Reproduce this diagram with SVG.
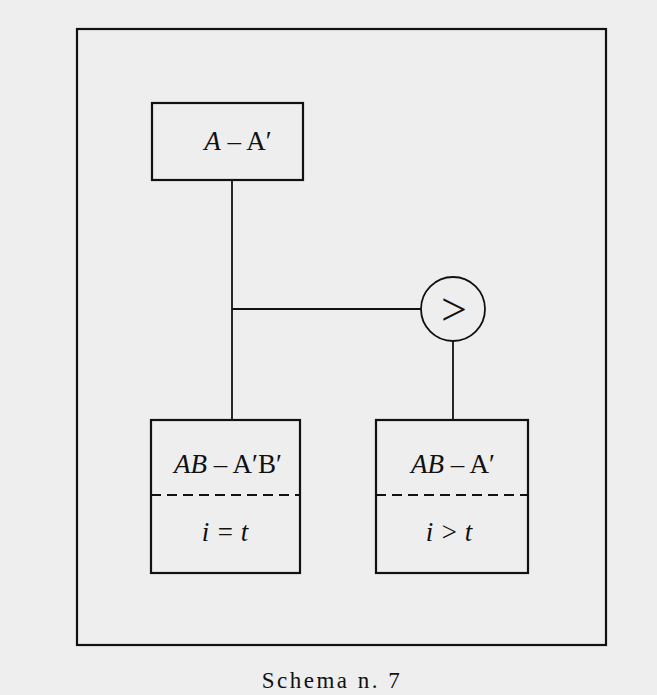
<svg xmlns="http://www.w3.org/2000/svg" width="657" height="695" viewBox="0 0 657 695">
<style>
.box{fill:none;stroke:#111;stroke-width:2.2}
.ln{fill:none;stroke:#111;stroke-width:1.8}
.dash{fill:none;stroke:#111;stroke-width:1.8;stroke-dasharray:10 6}
.t{font-family:"Liberation Serif",serif;font-size:27px;fill:#111;text-anchor:middle}
.it{font-style:italic}
.gt{font-family:"Liberation Serif",serif;font-size:46px;fill:#111;text-anchor:middle}
.cap{font-family:"Liberation Serif",serif;font-size:23px;fill:#111;text-anchor:middle;letter-spacing:2.5px}
</style>
<rect x="0" y="0" width="657" height="695" fill="#eeeeee"/>
<rect id="frame" class="box" x="77" y="29" width="529" height="616"/>
<g id="connectors">
<line class="ln" x1="232" y1="180" x2="232" y2="420"/>
<line class="ln" x1="232" y1="309" x2="421" y2="309"/>
<line class="ln" x1="453" y1="341" x2="453" y2="420"/>
</g>
<g id="nodeA">
<rect class="box" x="152" y="103" width="151" height="77"/>
<text class="t" x="238" y="150"><tspan class="it">A</tspan> – A′</text>
</g>
<g id="cmp">
<circle class="ln" cx="453" cy="309" r="32"/>
<text class="gt" x="454" y="325">&gt;</text>
</g>
<g id="nodeL">
<rect class="box" x="151" y="420" width="149" height="153"/>
<line class="dash" x1="151" y1="495" x2="300" y2="495"/>
<text class="t" x="228" y="473"><tspan class="it">AB</tspan> – A′B′</text>
<text class="t it" x="225" y="541">i = t</text>
</g>
<g id="nodeR">
<rect class="box" x="376" y="420" width="152" height="153"/>
<line class="dash" x1="376" y1="495" x2="528" y2="495"/>
<text class="t" x="453" y="473"><tspan class="it">AB</tspan> – A′</text>
<text class="t it" x="449" y="541">i &gt; t</text>
</g>
<text id="caption" class="cap" x="332" y="688">Schema n. 7</text>
</svg>
